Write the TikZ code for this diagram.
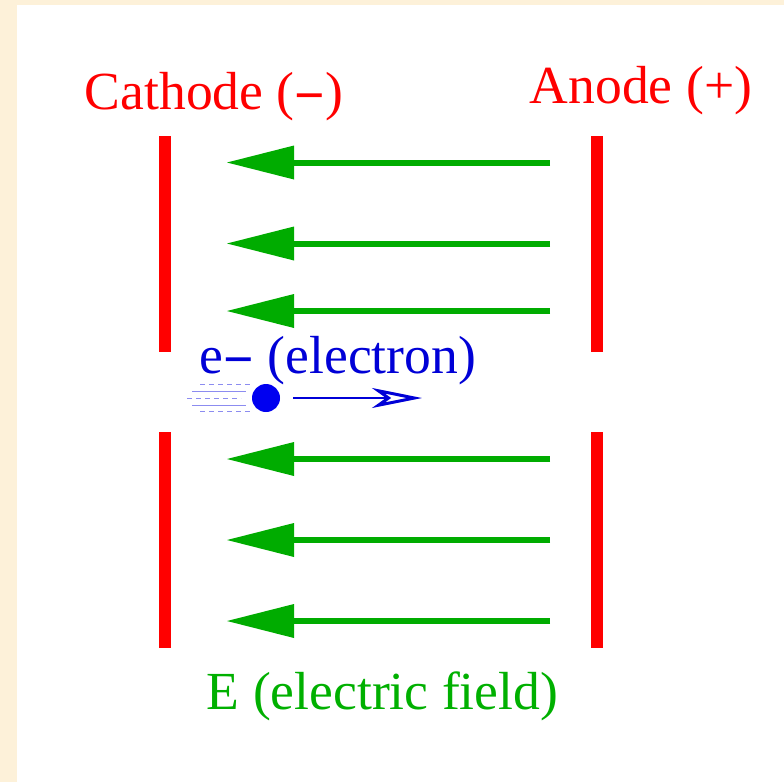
\documentclass[tikz,border=0pt]{standalone}
\usepackage{fontspec}
\setmainfont{Liberation Serif}
\usetikzlibrary{arrows.meta}
\definecolor{bgcream}{RGB}{253,241,217}
\definecolor{fieldgreen}{RGB}{0,172,0}
\definecolor{labelgreen}{RGB}{0,176,0}
\definecolor{plate}{RGB}{255,0,0}
\definecolor{eblue}{RGB}{0,0,215}
\definecolor{ball}{RGB}{0,0,240}
\definecolor{trail}{RGB}{140,140,240}
\newcommand{\bminus}{\raisebox{-4pt}{\textbf{−}}}
\tikzset{
  x=1pt,y=-1pt,
  lab/.style={font=\fontsize{53.6}{54}\selectfont,inner sep=0pt,anchor=base},
  platebar/.style={draw=none,fill=plate,minimum width=12pt,inner sep=0pt,outer sep=0pt},
  fieldarrow/.style={draw=fieldgreen,line width=6pt,-{Triangle[length=67pt,width=34pt,fill=fieldgreen,line width=0pt]}},
  trailsolid/.style={draw=trail,line width=1.5pt},
  traildash/.style={draw=trail,line width=1.2pt,dash pattern=on 5pt off 4pt},
}
\begin{document}
\begin{tikzpicture}
\useasboundingbox (0,0) rectangle (784,782);
\fill[bgcream] (0,0) rectangle (784,782);
\fill[white] (17,5) rectangle (784,782);
% labels
\node[lab,text=plate] (cath) at (214,109) {Cathode (\bminus)};
\node[lab,text=plate] (anod) at (641,103) {Anode (+)};
\node[lab,text=eblue] (elec) at (338,373) {e\bminus{} (electron)};
\node[lab,text=labelgreen] (efld) at (382.5,709) {E (electric field)};
% plates
\node[platebar,minimum height=216pt] (c1) at (165,244) {};
\node[platebar,minimum height=216pt] (c2) at (165,540) {};
\node[platebar,minimum height=216pt] (a1) at (596.5,244) {};
\node[platebar,minimum height=216pt] (a2) at (596.5,540) {};
% field arrows
\foreach \n/\y in {1/162.5,2/243.5,3/311,4/459,5/540,6/621}{
  \coordinate (fs\n) at (550,\y);
  \coordinate (fe\n) at (227,\y);
  \draw[fieldarrow] (fs\n) -- (fe\n);
}
% electron
\node[circle,fill=ball,minimum size=28pt,inner sep=0pt] (ball) at (266,398) {};
\coordinate (tip) at (422,398);
\coordinate (st) at (293,398);
\draw[eblue,line width=2.4pt,-{Stealth[length=50pt,width=20pt,inset=14pt,open,fill=white,line width=3pt]}] (st) -- (tip);
\coordinate (t1a) at (200,384.5); \coordinate (t1b) at (253,384.5);
\coordinate (t2a) at (192,391.5); \coordinate (t2b) at (246,391.5);
\coordinate (t3a) at (187,398.5); \coordinate (t3b) at (241,398.5);
\coordinate (t4a) at (192,405.5); \coordinate (t4b) at (246,405.5);
\coordinate (t5a) at (200,411.5); \coordinate (t5b) at (253,411.5);
\draw[traildash] (t1a) -- (t1b);
\draw[trailsolid] (t2a) -- (t2b);
\draw[traildash] (t3a) -- (t3b);
\draw[trailsolid] (t4a) -- (t4b);
\draw[traildash] (t5a) -- (t5b);
\end{tikzpicture}
\end{document}
